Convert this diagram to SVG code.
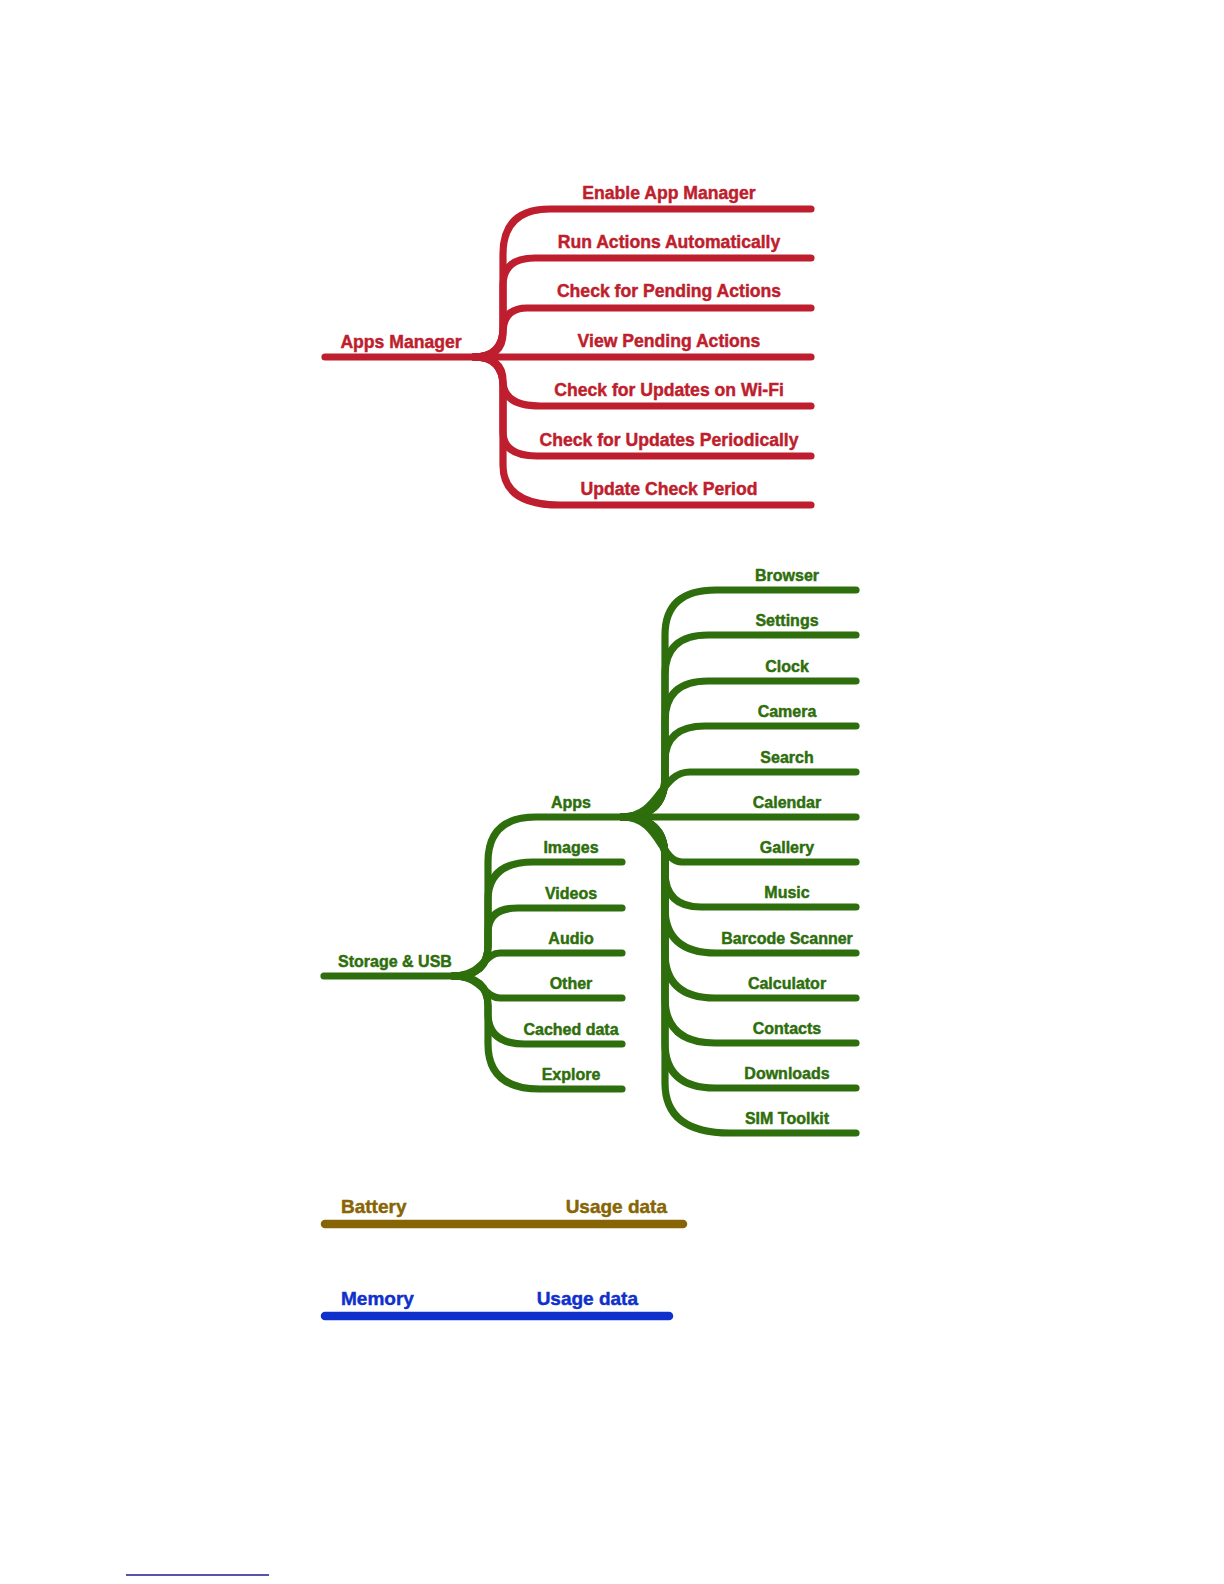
<svg xmlns="http://www.w3.org/2000/svg" width="1224" height="1584" viewBox="0 0 1224 1584">
<style>
  text { font-family: "Liberation Sans", Arial, sans-serif; font-weight: bold; stroke-width: 0.45px; stroke-linejoin: round; }
  .r { fill: #BE1E2D; stroke: #BE1E2D; font-size: 17.6px; text-anchor: middle; }
  .g { fill: #2E6E0C; stroke: #2E6E0C; font-size: 16px; text-anchor: middle; }
  .b { fill: #876506; stroke: #876506; font-size: 19px; }
  .m { fill: #1030CC; stroke: #1030CC; font-size: 19px; }
  .cr { fill: none; stroke: #BE1E2D; stroke-width: 7.2; stroke-linecap: round; stroke-linejoin: round; }
  .cg { fill: none; stroke: #2E6E0C; stroke-width: 7.2; stroke-linecap: round; stroke-linejoin: round; }
</style>
<rect width="1224" height="1584" fill="#FFFFFF"/>
<g id="connectors">
  <path class="cr" d="M 325 357 H 811"/>
  <path class="cr" d="M 474 357 Q 503 357 503 328 L 503 254 Q 503 209 550 209 H 811"/>
  <path class="cr" d="M 474 357 Q 503 357 503 328 L 503 285 Q 503 258 535 258 H 811"/>
  <path class="cr" d="M 474 357 Q 503 357 503 333 Q 503 308 527 308 H 811"/>
  <path class="cr" d="M 474 357 Q 503 357 503 381 Q 503 406 540 406 H 811"/>
  <path class="cr" d="M 474 357 Q 503 357 503 386 L 503 432 Q 503 456 537 456 H 811"/>
  <path class="cr" d="M 474 357 Q 503 357 503 386 L 503 465 Q 503 505 560 505 H 811"/>

  <path class="cg" d="M 324 976 H 455"/>
  <path class="cg" d="M 453 976 Q 488 976 488 946 L 488 862 Q 488 817 536 817 H 625"/>
  <path class="cg" d="M 453 976 Q 488 976 488 946 L 488 900 Q 488 862 533 862 H 622"/>
  <path class="cg" d="M 453 976 Q 488 976 488 946 L 488 932 Q 488 908 518 908 H 622"/>
  <path class="cg" d="M 453 976 C 482 976 484 953 500 953 H 622"/>
  <path class="cg" d="M 453 976 C 482 976 484 998 500 998 H 622"/>
  <path class="cg" d="M 453 976 Q 488 976 488 1006 L 488 1014 Q 488 1044 525 1044 H 622"/>
  <path class="cg" d="M 453 976 Q 488 976 488 1006 L 488 1044 Q 488 1089 540 1089 H 622"/>

  <path class="cg" d="M 625 817 H 856"/>
  <path class="cg" d="M 622 817 Q 665 817 665 777 L 665 635 Q 665 590 716 590 H 856"/>
  <path class="cg" d="M 622 817 Q 665 817 665 777 L 665 675 Q 665 635 708 635 H 856"/>
  <path class="cg" d="M 622 817 Q 665 817 665 777 L 665 721 Q 665 681 708 681 H 856"/>
  <path class="cg" d="M 622 817 Q 665 817 665 777 L 665 761 Q 665 726 705 726 H 856"/>
  <path class="cg" d="M 622 817 C 660 817 660 772 690 772 H 856"/>
  <path class="cg" d="M 622 817 C 660 817 660 862 682 862 H 856"/>
  <path class="cg" d="M 622 817 Q 665 817 665 857 L 665 872 Q 665 907 701 907 H 856"/>
  <path class="cg" d="M 622 817 Q 665 817 665 857 L 665 908 Q 665 953 716 953 H 856"/>
  <path class="cg" d="M 622 817 Q 665 817 665 857 L 665 953 Q 665 998 715 998 H 856"/>
  <path class="cg" d="M 622 817 Q 665 817 665 857 L 665 998 Q 665 1043 715 1043 H 856"/>
  <path class="cg" d="M 622 817 Q 665 817 665 857 L 665 1043 Q 665 1088 715 1088 H 856"/>
  <path class="cg" d="M 622 817 Q 665 817 665 857 L 665 1083 Q 665 1133 730 1133 H 856"/>

  <line x1="325" y1="1224" x2="683" y2="1224" stroke="#876506" stroke-width="8.5" stroke-linecap="round"/>
  <line x1="325" y1="1316" x2="669" y2="1316" stroke="#1030CC" stroke-width="8.5" stroke-linecap="round"/>
  <line x1="126" y1="1575" x2="269" y2="1575" stroke="#1C1C8E" stroke-width="1.3"/>
</g>

<g id="apps-manager"><text class="r" x="401" y="348">Apps Manager</text></g>
<g id="enable-app-manager"><text class="r" x="669" y="199">Enable App Manager</text></g>
<g id="run-actions-automatically"><text class="r" x="669" y="248">Run Actions Automatically</text></g>
<g id="check-for-pending-actions"><text class="r" x="669" y="297">Check for Pending Actions</text></g>
<g id="view-pending-actions"><text class="r" x="669" y="347">View Pending Actions</text></g>
<g id="check-for-updates-on-wifi"><text class="r" x="669" y="396">Check for Updates on Wi-Fi</text></g>
<g id="check-for-updates-periodically"><text class="r" x="669" y="446">Check for Updates Periodically</text></g>
<g id="update-check-period"><text class="r" x="669" y="495">Update Check Period</text></g>

<g id="storage-usb"><text class="g" x="395" y="967">Storage &amp; USB</text></g>
<g id="apps"><text class="g" x="571" y="808">Apps</text></g>
<g id="images"><text class="g" x="571" y="853">Images</text></g>
<g id="videos"><text class="g" x="571" y="899">Videos</text></g>
<g id="audio"><text class="g" x="571" y="944">Audio</text></g>
<g id="other"><text class="g" x="571" y="989">Other</text></g>
<g id="cached-data"><text class="g" x="571" y="1035">Cached data</text></g>
<g id="explore"><text class="g" x="571" y="1080">Explore</text></g>

<g id="browser"><text class="g" x="787" y="581">Browser</text></g>
<g id="settings"><text class="g" x="787" y="626">Settings</text></g>
<g id="clock"><text class="g" x="787" y="672">Clock</text></g>
<g id="camera"><text class="g" x="787" y="717">Camera</text></g>
<g id="search"><text class="g" x="787" y="763">Search</text></g>
<g id="calendar"><text class="g" x="787" y="808">Calendar</text></g>
<g id="gallery"><text class="g" x="787" y="853">Gallery</text></g>
<g id="music"><text class="g" x="787" y="898">Music</text></g>
<g id="barcode-scanner"><text class="g" x="787" y="944">Barcode Scanner</text></g>
<g id="calculator"><text class="g" x="787" y="989">Calculator</text></g>
<g id="contacts"><text class="g" x="787" y="1034">Contacts</text></g>
<g id="downloads"><text class="g" x="787" y="1079">Downloads</text></g>
<g id="sim-toolkit"><text class="g" x="787" y="1124">SIM Toolkit</text></g>

<g id="battery"><text class="b" x="341" y="1213">Battery</text></g>
<g id="battery-usage-data"><text class="b" x="667" y="1213" text-anchor="end">Usage data</text></g>
<g id="memory"><text class="m" x="341" y="1305">Memory</text></g>
<g id="memory-usage-data"><text class="m" x="638" y="1305" text-anchor="end">Usage data</text></g>
</svg>
